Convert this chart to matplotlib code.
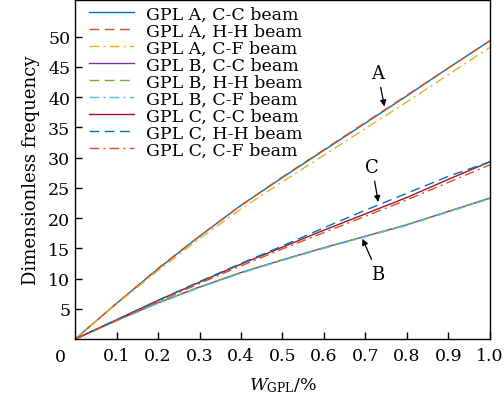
import numpy as np
from matplotlib import pyplot as plt

plt.rcParams['font.family'] = 'DejaVu Serif'
plt.rcParams['mathtext.fontset'] = 'dejavuserif'

# Fração de GPL (%)
w = [0.0, 0.1, 0.2, 0.3, 0.4, 0.5, 0.6, 0.7, 0.8, 0.9, 1.0]

# Frequências adimensionais
a_cc = [0, 5.9, 11.6, 17.0, 22.1, 26.7, 31.2, 35.7, 40.2, 44.8, 49.3]
a_hh = [0, 5.9, 11.7, 17.0, 22.1, 26.8, 31.3, 35.8, 40.3, 44.8, 49.3]
a_cf = [0, 5.8, 11.3, 16.6, 21.5, 26.0, 30.4, 34.8, 39.2, 43.7, 48.2]
b_cc = [0, 3.1, 6.0, 8.6, 11.0, 13.1, 15.1, 17.0, 18.9, 21.1, 23.3]
b_hh = [0, 3.1, 6.0, 8.6, 11.0, 13.1, 15.1, 17.0, 18.9, 21.1, 23.3]
b_cf = [0, 3.0, 5.9, 8.5, 10.9, 13.0, 15.0, 16.9, 18.8, 21.0, 23.2]
c_cc = [0, 3.2, 6.4, 9.4, 12.4, 15.2, 18.0, 20.7, 23.4, 26.4, 29.3]
c_hh = [0, 3.2, 6.4, 9.5, 12.5, 15.4, 18.4, 21.3, 24.1, 26.9, 29.3]
c_cf = [0, 3.1, 6.2, 9.2, 12.1, 14.9, 17.6, 20.3, 23.0, 25.9, 28.8]

series = [
    (a_cc, '#0072BD', '-', 'GPL A, C-C beam'),
    (a_hh, '#D95319', (0, (7, 4)), 'GPL A, H-H beam'),
    (a_cf, '#EDB120', (0, (7, 3, 1.5, 3)), 'GPL A, C-F beam'),
    (b_cc, '#7E2F8E', '-', 'GPL B, C-C beam'),
    (b_hh, '#77AC30', (0, (7, 4)), 'GPL B, H-H beam'),
    (b_cf, '#4DBEEE', (0, (7, 3, 1.5, 3)), 'GPL B, C-F beam'),
    (c_cc, '#A2142F', '-', 'GPL C, C-C beam'),
    (c_hh, '#0072BD', (0, (7, 4)), 'GPL C, H-H beam'),
    (c_cf, '#D95319', (0, (7, 3, 1.5, 3)), 'GPL C, C-F beam'),
]

fig = plt.figure(figsize=(5.04, 4.02), dpi=100)
ax = fig.add_axes([0.149, 0.154, 0.823, 0.843])

for y, cor, ls, nome in series:
    ax.plot(w, y, color=cor, linestyle=ls, lw=1.0, label=nome)

ax.set_xlim(0, 1.0)
ax.set_ylim(0, 56)
ax.set_xticks(np.arange(0.1, 1.01, 0.1))
ax.set_xticklabels([f'{v:.1f}' for v in np.arange(0.1, 1.01, 0.1)])
ax.set_yticks(np.arange(5, 51, 5))
ax.tick_params(direction='in', labelsize=12.5, length=5, width=1)
ax.tick_params(axis='x', pad=6)
for s in ax.spines.values():
    s.set_linewidth(1.0)
ax.text(-0.035, -0.025, '0', transform=ax.transAxes, fontsize=12.5, ha='center', va='top')

ax.set_xlabel(r'$W_{\mathrm{GPL}}$/%', fontsize=12.5, labelpad=8)
ax.set_ylabel('Dimensionless frequency', fontsize=13, labelpad=6)

# Anotações A, B, C
seta = dict(arrowstyle='-|>', color='k', lw=0.9, mutation_scale=9)
ax.annotate('A', xy=(0.747, 38.0), xytext=(0.73, 44.0), fontsize=13, ha='center', va='center', arrowprops=seta)
ax.annotate('C', xy=(0.732, 22.2), xytext=(0.716, 28.5), fontsize=13, ha='center', va='center', arrowprops=seta)
ax.annotate('B', xy=(0.69, 17.0), xytext=(0.73, 10.8), fontsize=13, ha='center', va='center', arrowprops=seta)

ax.legend(loc='upper left', bbox_to_anchor=(0.02, 1.0), frameon=False, fontsize=12.5,
          labelspacing=0.0, handlelength=2.6, borderaxespad=0.1, borderpad=0.2,
          handletextpad=0.7)

fig.savefig('out.png', dpi=100)
